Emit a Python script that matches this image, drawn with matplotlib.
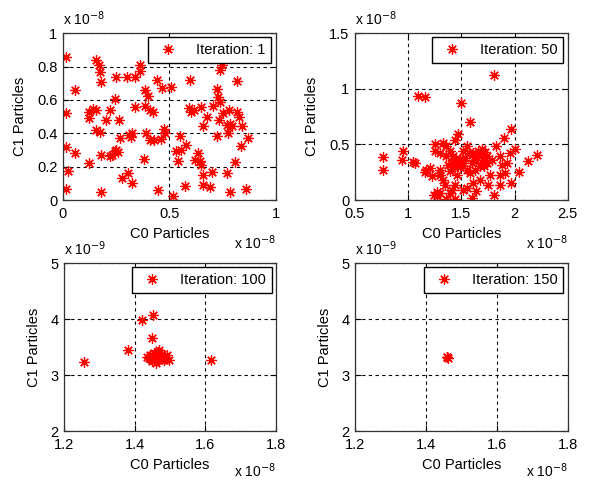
import matplotlib.pyplot as plt
import numpy as np

plt.rcParams['font.family'] = ['Liberation Sans', 'DejaVu Sans']
plt.rcParams['font.size'] = 10

# values are in units of 1e-8 (C0) and 1e-8 / 1e-9 (C1), as the axis multipliers show
c0_it1 = [0.016, 0.157, 0.169, 0.176, 0.180, 0.25, 0.30, 0.337, 0.36, 0.36, 0.44, 0.465, 0.506,
          0.055, 0.387, 0.40, 0.243, 0.016, 0.122, 0.141, 0.157, 0.12, 0.22, 0.204, 0.263, 0.337,
          0.387, 0.41, 0.423, 0.157, 0.172, 0.016, 0.058, 0.023, 0.12, 0.016, 0.177, 0.177, 0.243,
          0.25, 0.26, 0.23, 0.266, 0.318, 0.326, 0.38, 0.306, 0.277, 0.326, 0.447, 0.392, 0.41,
          0.462, 0.475, 0.478, 0.517, 0.533, 0.541, 0.549, 0.553, 0.58, 0.572, 0.596, 0.603, 0.616,
          0.65, 0.677, 0.658, 0.705, 0.724, 0.729, 0.74, 0.733, 0.752, 0.779, 0.818, 0.828, 0.784,
          0.795, 0.776, 0.842, 0.87, 0.835, 0.724, 0.81, 0.818, 0.737, 0.745, 0.643, 0.65, 0.658,
          0.658, 0.693, 0.635, 0.70, 0.771, 0.787, 0.862, 0.219, 0.31, 0.43, 0.59, 0.62, 0.77]
c1_it1 = [0.855, 0.84, 0.81, 0.77, 0.705, 0.74, 0.735, 0.735, 0.81, 0.775, 0.72, 0.67, 0.677,
          0.657, 0.66, 0.625, 0.605, 0.52, 0.53, 0.545, 0.54, 0.49, 0.54, 0.48, 0.48, 0.557,
          0.565, 0.54, 0.53, 0.42, 0.41, 0.32, 0.28, 0.177, 0.223, 0.068, 0.05, 0.27, 0.293,
          0.30, 0.287, 0.273, 0.372, 0.38, 0.40, 0.247, 0.163, 0.133, 0.10, 0.06, 0.40, 0.36,
          0.367, 0.425, 0.40, 0.024, 0.293, 0.233, 0.382, 0.303, 0.333, 0.084, 0.72, 0.526, 0.54,
          0.557, 0.50, 0.442, 0.562, 0.665, 0.62, 0.59, 0.48, 0.52, 0.54, 0.53, 0.50, 0.456,
          0.446, 0.40, 0.442, 0.372, 0.323, 0.382, 0.227, 0.715, 0.78, 0.81, 0.233, 0.213, 0.15,
          0.09, 0.08, 0.283, 0.17, 0.163, 0.048, 0.064, 0.263, 0.39, 0.36, 0.55, 0.24, 0.45]

c0_it50 = [1.81, 1.096, 1.158, 1.497, 1.58, 1.964, 1.90, 1.83, 1.47, 1.44, 0.76, 0.76, 0.955, 0.94,
           1.05, 1.064, 1.17, 1.16, 1.25, 1.33, 1.36, 1.39, 1.42, 1.456, 1.49, 1.52, 1.55, 1.61,
           1.66, 1.69, 1.74, 1.71, 1.64, 1.60, 1.785, 1.86, 1.93, 1.96, 2.00, 2.13, 2.215, 2.04,
           1.86, 1.97, 1.86, 1.81, 1.75, 1.64, 1.60, 1.61, 1.55, 1.52, 1.44, 1.36, 1.27, 1.24,
           1.27, 1.33, 1.35, 1.44, 1.41, 1.30, 1.39, 1.42, 1.456, 1.55, 1.58, 1.63, 1.675, 1.71,
           1.74, 1.47, 1.41, 1.378, 1.36, 1.25, 1.30, 1.30, 1.22, 1.205, 1.30, 1.39, 1.675, 1.77,
           1.91, 1.88, 1.52, 1.42, 1.48, 1.50, 1.53, 1.57, 1.45, 1.68, 1.72, 1.62, 1.46, 1.51]
c1_it50 = [1.126, 0.932, 0.926, 0.872, 0.70, 0.64, 0.56, 0.49, 0.59, 0.54, 0.385, 0.27, 0.44, 0.365,
           0.34, 0.335, 0.27, 0.25, 0.50, 0.515, 0.485, 0.44, 0.395, 0.335, 0.365, 0.305, 0.485, 0.425,
           0.44, 0.455, 0.395, 0.365, 0.365, 0.335, 0.365, 0.395, 0.335, 0.425, 0.455, 0.35, 0.41, 0.25,
           0.23, 0.155, 0.14, 0.05, 0.14, 0.08, 0.02, 0.155, 0.11, 0.095, 0.006, 0.006, 0.036, 0.05,
           0.07, 0.185, 0.14, 0.14, 0.095, 0.275, 0.26, 0.305, 0.23, 0.275, 0.245, 0.27, 0.305, 0.305,
           0.335, 0.305, 0.335, 0.32, 0.395, 0.44, 0.425, 0.23, 0.215, 0.29, 0.066, 0.066, 0.185, 0.23,
           0.245, 0.32, 0.44, 0.335, 0.36, 0.33, 0.38, 0.42, 0.37, 0.40, 0.43, 0.39, 0.31, 0.35]

c0_it100 = [1.257, 1.38, 1.42, 1.453, 1.45, 1.497, 1.615,
            1.44, 1.445, 1.45, 1.455, 1.46, 1.46, 1.465, 1.47, 1.47, 1.475, 1.48, 1.485, 1.45,
            1.455, 1.465, 1.47, 1.46, 1.435, 1.49, 1.458, 1.462, 1.468, 1.452, 1.473, 1.478,
            1.443, 1.482, 1.456, 1.466, 1.463]
c1_it100 = [3.232, 3.45, 3.99, 4.08, 3.667, 3.26, 3.26,
            3.30, 3.28, 3.35, 3.32, 3.30, 3.38, 3.34, 3.31, 3.27, 3.36, 3.33, 3.30, 3.25,
            3.40, 3.42, 3.44, 3.22, 3.32, 3.36, 3.29, 3.33, 3.35, 3.31, 3.29, 3.38,
            3.36, 3.27, 3.26, 3.30, 3.36]

c0_it150 = [1.46, 1.461, 1.459]
c1_it150 = [3.32, 3.31, 3.33]

panels = [
    (c0_it1, c1_it1, 'Iteration: 1', (0, 1), np.arange(0, 1.01, 0.5), ['0', '0.5', '1'],
     (0, 1), np.arange(0, 1.01, 0.2), ['0', '0.2', '0.4', '0.6', '0.8', '1'], '-8'),
    (c0_it50, c1_it50, 'Iteration: 50', (0.5, 2.5), np.arange(0.5, 2.51, 0.5), ['0.5', '1', '1.5', '2', '2.5'],
     (0, 1.5), np.arange(0, 1.51, 0.5), ['0', '0.5', '1', '1.5'], '-8'),
    (c0_it100, c1_it100, 'Iteration: 100', (1.2, 1.8), np.arange(1.2, 1.81, 0.2), ['1.2', '1.4', '1.6', '1.8'],
     (2, 5), np.arange(2, 5.01, 1), ['2', '3', '4', '5'], '-9'),
    (c0_it150, c1_it150, 'Iteration: 150', (1.2, 1.8), np.arange(1.2, 1.81, 0.2), ['1.2', '1.4', '1.6', '1.8'],
     (2, 5), np.arange(2, 5.01, 1), ['2', '3', '4', '5'], '-9'),
]

fig = plt.figure(figsize=(5.96, 4.8), dpi=100)
rects = [[0.1057, 0.583, 0.357, 0.348], [0.5956, 0.583, 0.357, 0.348],
         [0.1074, 0.102, 0.356, 0.35], [0.5956, 0.102, 0.357, 0.35]]

asterisk = (8, 2, 0)
for i, (rect, (xs, ys, lab, xl, xt, xtl, yl, yt, ytl, yexp)) in enumerate(zip(rects, panels)):
    ax = fig.add_axes(rect)
    ax.plot(xs, ys, ls='none', marker=asterisk, ms=7.5, mew=0.9, color='red', label=lab)
    ax.set_xlim(xl)
    ax.set_ylim(yl)
    ax.set_xticks(xt)
    ax.set_xticklabels(xtl)
    ax.set_yticks(yt)
    ax.set_yticklabels(ytl)
    ax.grid(True, color='black', linestyle=(0, (3, 3)), linewidth=0.8)
    ax.tick_params(direction='in', length=4, top=True, right=True, labelsize=10.5)
    ax.tick_params(axis='x', pad=5)
    ax.tick_params(axis='y', pad=4)
    for s in ax.spines.values():
        s.set_linewidth(0.9)
        s.set_color('#333333')
    ax.set_xlabel('C0 Particles', fontsize=10.5, labelpad=4)
    ax.set_ylabel('C1 Particles', fontsize=10.5, labelpad=7)
    ax.text(0.0, 1.03, 'x 10$^{' + yexp + '}$', transform=ax.transAxes, fontsize=10, va='bottom', ha='left')
    ax.text(1.0, -0.2 if i < 2 else -0.18, 'x 10$^{-8}$', transform=ax.transAxes,
            fontsize=10, va='top', ha='right')
    leg = ax.legend(loc='upper right', fancybox=False, framealpha=1, edgecolor='black',
                    borderaxespad=0.3, handlelength=2.0, handletextpad=0.9, borderpad=0.4,
                    fontsize=10.5)
    leg.get_frame().set_linewidth(1.0)

fig.savefig('out.png', dpi=100)
